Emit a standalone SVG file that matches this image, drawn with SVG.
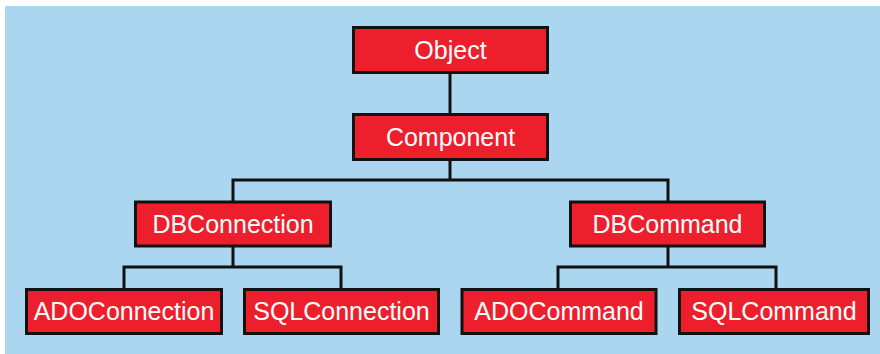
<svg xmlns="http://www.w3.org/2000/svg" width="880" height="354" viewBox="0 0 880 354">
<style>
.box{fill:#EE1F2D;stroke:#111;stroke-width:3}
.lbl{font-family:"Liberation Sans",Arial,sans-serif;font-size:25px;fill:#fff;text-anchor:middle}
.con{fill:none;stroke:#111;stroke-width:3}
</style>
<rect x="5" y="6" width="875" height="348" fill="#ABD6F0"/>
<g id="connectors" class="con">
<path d="M450,73V113"/>
<path d="M450,160V180M233,201V180H668V201"/>
<path d="M233,247V267M124,288V267H341V288"/>
<path d="M668,247V267M558,288V267H776V288"/>
</g>
<g id="object"><rect class="box" x="353.5" y="27.5" width="194" height="45"/><text class="lbl" x="450.5" y="58.5">Object</text></g>
<g id="component"><rect class="box" x="353.5" y="114.5" width="194" height="45"/><text class="lbl" x="450.5" y="145.5">Component</text></g>
<g id="dbconnection"><rect class="box" x="135.5" y="202" width="195" height="44"/><text class="lbl" x="233" y="232.5">DBConnection</text></g>
<g id="dbcommand"><rect class="box" x="570.5" y="202" width="194" height="44"/><text class="lbl" x="667.5" y="232.5">DBCommand</text></g>
<g id="adoconnection"><rect class="box" x="26.5" y="289.5" width="195" height="44"/><text class="lbl" x="124" y="319.5">ADOConnection</text></g>
<g id="sqlconnection"><rect class="box" x="244.5" y="289.5" width="194" height="44"/><text class="lbl" x="341.5" y="319.5">SQLConnection</text></g>
<g id="adocommand"><rect class="box" x="462" y="289.5" width="194" height="44"/><text class="lbl" x="559" y="319.5">ADOCommand</text></g>
<g id="sqlcommand"><rect class="box" x="679.5" y="289.5" width="189" height="44"/><text class="lbl" x="774" y="319.5">SQLCommand</text></g>
</svg>
